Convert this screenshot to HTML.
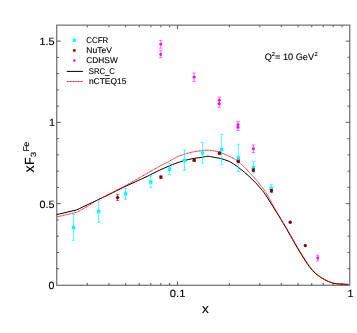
<!DOCTYPE html>
<html><head><meta charset="utf-8"><style>
html,body{margin:0;padding:0;background:#fff;}
svg{display:block;}
text{font-family:"Liberation Sans",sans-serif;fill:#000;text-rendering:geometricPrecision;stroke:#000;stroke-width:0.12px;}
svg{will-change:transform;}
</style></head><body>
<svg width="357" height="333" viewBox="0 0 357 333">
<rect width="357" height="333" fill="#fff"/>
<g stroke="#6c6c6c" stroke-width="1.2" fill="none">
<rect x="56.75" y="25.15" width="293.00" height="260.10"/>
<path d="M56.75,268.69h2.2 M349.75,268.69h-2.2" stroke="#4a4a4a" stroke-width="0.9"/>
<path d="M56.75,252.44h2.2 M349.75,252.44h-2.2" stroke="#4a4a4a" stroke-width="0.9"/>
<path d="M56.75,236.18h2.2 M349.75,236.18h-2.2" stroke="#4a4a4a" stroke-width="0.9"/>
<path d="M56.75,219.92h2.2 M349.75,219.92h-2.2" stroke="#4a4a4a" stroke-width="0.9"/>
<path d="M56.75,203.67h4.1 M349.75,203.67h-4.1" stroke="#4a4a4a" stroke-width="0.9"/>
<path d="M56.75,187.41h2.2 M349.75,187.41h-2.2" stroke="#4a4a4a" stroke-width="0.9"/>
<path d="M56.75,171.16h2.2 M349.75,171.16h-2.2" stroke="#4a4a4a" stroke-width="0.9"/>
<path d="M56.75,154.90h2.2 M349.75,154.90h-2.2" stroke="#4a4a4a" stroke-width="0.9"/>
<path d="M56.75,138.64h2.2 M349.75,138.64h-2.2" stroke="#4a4a4a" stroke-width="0.9"/>
<path d="M56.75,122.39h4.1 M349.75,122.39h-4.1" stroke="#4a4a4a" stroke-width="0.9"/>
<path d="M56.75,106.13h2.2 M349.75,106.13h-2.2" stroke="#4a4a4a" stroke-width="0.9"/>
<path d="M56.75,89.88h2.2 M349.75,89.88h-2.2" stroke="#4a4a4a" stroke-width="0.9"/>
<path d="M56.75,73.62h2.2 M349.75,73.62h-2.2" stroke="#4a4a4a" stroke-width="0.9"/>
<path d="M56.75,57.36h2.2 M349.75,57.36h-2.2" stroke="#4a4a4a" stroke-width="0.9"/>
<path d="M56.75,41.11h4.1 M349.75,41.11h-4.1" stroke="#4a4a4a" stroke-width="0.9"/>
<path d="M87.33,285.25v-2.2 M87.33,25.15v2.2"/>
<path d="M108.88,285.25v-2.2 M108.88,25.15v2.2"/>
<path d="M125.59,285.25v-2.2 M125.59,25.15v2.2"/>
<path d="M139.24,285.25v-2.2 M139.24,25.15v2.2"/>
<path d="M150.79,285.25v-2.2 M150.79,25.15v2.2"/>
<path d="M160.79,285.25v-2.2 M160.79,25.15v2.2"/>
<path d="M169.61,285.25v-2.2 M169.61,25.15v2.2"/>
<path d="M177.50,285.25v-4.1 M177.50,25.15v4.1"/>
<path d="M229.41,285.25v-2.2 M229.41,25.15v2.2"/>
<path d="M259.78,285.25v-2.2 M259.78,25.15v2.2"/>
<path d="M281.33,285.25v-2.2 M281.33,25.15v2.2"/>
<path d="M298.04,285.25v-2.2 M298.04,25.15v2.2"/>
<path d="M311.69,285.25v-2.2 M311.69,25.15v2.2"/>
<path d="M323.24,285.25v-2.2 M323.24,25.15v2.2"/>
<path d="M333.24,285.25v-2.2 M333.24,25.15v2.2"/>
<path d="M342.06,285.25v-2.2 M342.06,25.15v2.2"/>
</g>
<path d="M56.70,214.60 L76.40,210.00 C84.27,206.27 95.07,201.13 100.00,198.80 C104.93,196.47 101.67,198.12 106.00,196.00 C110.33,193.88 119.50,189.20 126.00,186.10 C132.50,183.00 139.45,180.03 145.00,177.40 C150.55,174.77 155.47,172.12 159.30,170.30 C163.13,168.48 165.05,167.73 168.00,166.50 C170.95,165.27 174.30,163.88 177.00,162.90 C179.70,161.92 181.50,161.33 184.20,160.60 C186.90,159.87 190.57,159.00 193.20,158.50 C195.83,158.00 198.12,157.87 200.00,157.60 C201.88,157.33 203.13,157.12 204.50,156.90 C205.87,156.68 206.78,156.22 208.20,156.25 C209.62,156.28 211.27,156.79 213.00,157.10 C214.73,157.41 217.10,157.80 218.60,158.10 C220.10,158.40 220.43,158.43 222.00,158.90 C223.57,159.37 226.13,160.10 228.00,160.90 C229.87,161.70 231.40,162.57 233.20,163.70 C235.00,164.83 236.93,166.28 238.80,167.70 C240.67,169.12 242.53,170.62 244.40,172.20 C246.27,173.78 248.13,175.43 250.00,177.20 C251.87,178.97 253.92,181.02 255.60,182.80 C257.28,184.58 258.47,185.93 260.10,187.90 C261.73,189.87 262.82,190.78 265.40,194.60 C267.98,198.42 272.25,205.38 275.60,210.80 C278.95,216.22 283.02,222.92 285.50,227.10 C287.98,231.28 288.03,231.62 290.50,235.90 C292.97,240.18 297.00,247.47 300.30,252.80 C303.60,258.13 307.45,264.20 310.30,267.90 C313.15,271.60 315.02,273.03 317.40,275.00 C319.78,276.97 322.22,278.40 324.60,279.70 C326.98,281.00 329.80,282.13 331.70,282.80 C333.60,283.47 334.10,283.47 336.00,283.70 C337.90,283.93 341.02,284.08 343.10,284.20 C345.18,284.32 346.70,284.33 348.50,284.40" stroke="#000" stroke-width="1" fill="none" stroke-linejoin="round"/>
<path d="M56.70,217.00 L76.70,212.30 C80.47,210.20 84.62,207.98 88.00,206.00 C91.38,204.02 94.00,202.13 97.00,200.40 C100.00,198.67 101.17,198.10 106.00,195.60 C110.83,193.10 119.50,188.90 126.00,185.40 C132.50,181.90 139.45,177.77 145.00,174.60 C150.55,171.43 155.47,168.50 159.30,166.40 C163.13,164.30 165.05,163.57 168.00,162.00 C170.95,160.43 174.30,158.28 177.00,157.00 C179.70,155.72 181.50,155.15 184.20,154.30 C186.90,153.45 190.57,152.47 193.20,151.90 C195.83,151.33 197.52,151.20 200.00,150.90 C202.48,150.60 205.00,149.95 208.10,150.10 C211.20,150.25 216.28,151.30 218.60,151.80 C220.92,152.30 219.57,152.03 222.00,153.10 C224.43,154.17 230.40,156.70 233.20,158.20 C236.00,159.70 236.93,160.62 238.80,162.10 C240.67,163.58 242.53,165.27 244.40,167.10 C246.27,168.93 248.13,171.08 250.00,173.10 C251.87,175.12 253.73,177.02 255.60,179.20 C257.47,181.38 259.48,183.97 261.20,186.20 C262.92,188.43 263.42,188.50 265.90,192.60 C268.38,196.70 272.75,205.05 276.10,210.80 C279.45,216.55 283.52,222.92 286.00,227.10 C288.48,231.28 288.53,231.62 291.00,235.90 C293.47,240.18 297.50,247.47 300.80,252.80 C304.10,258.13 307.95,264.20 310.80,267.90 C313.65,271.60 315.52,273.03 317.90,275.00 C320.28,276.97 322.75,278.40 325.10,279.70 C327.45,281.00 330.13,282.13 332.00,282.80 C333.87,283.47 334.45,283.47 336.30,283.70 C338.15,283.93 341.07,284.08 343.10,284.20 C345.13,284.32 346.70,284.33 348.50,284.40" stroke="#ff0000" stroke-width="0.9" fill="none" stroke-linejoin="round" stroke-dasharray="1.2 0.35"/>
<path d="M73.6,214.2V240.3 M71.89999999999999,214.2h3.4 M71.89999999999999,240.3h3.4" stroke="#00ffff" stroke-width="0.7" fill="none"/>
<path d="M98.7,200.7V222.3 M97.0,200.7h3.4 M97.0,222.3h3.4" stroke="#00ffff" stroke-width="0.7" fill="none"/>
<path d="M125.6,188.3V199.2 M123.89999999999999,188.3h3.4 M123.89999999999999,199.2h3.4" stroke="#00ffff" stroke-width="0.7" fill="none"/>
<path d="M150.8,175.8V187.7 M149.10000000000002,175.8h3.4 M149.10000000000002,187.7h3.4" stroke="#00ffff" stroke-width="0.7" fill="none"/>
<path d="M169.5,163.6V174.6 M167.8,163.6h3.4 M167.8,174.6h3.4" stroke="#00ffff" stroke-width="0.7" fill="none"/>
<path d="M184.5,150.1V170.4 M182.8,150.1h3.4 M182.8,170.4h3.4" stroke="#00ffff" stroke-width="0.7" fill="none"/>
<path d="M202.6,142.4V163.1 M200.9,142.4h3.4 M200.9,163.1h3.4" stroke="#00ffff" stroke-width="0.7" fill="none"/>
<path d="M221.65,134.3V164.4 M219.95000000000002,134.3h3.4 M219.95000000000002,164.4h3.4" stroke="#00ffff" stroke-width="0.7" fill="none"/>
<path d="M238.3,144.3V171.4 M236.60000000000002,144.3h3.4 M236.60000000000002,171.4h3.4" stroke="#00ffff" stroke-width="0.7" fill="none"/>
<path d="M253.4,161.8V172.8 M251.70000000000002,161.8h3.4 M251.70000000000002,172.8h3.4" stroke="#00ffff" stroke-width="0.7" fill="none"/>
<path d="M271.4,184.2V192.6 M269.7,184.2h3.4 M269.7,192.6h3.4" stroke="#00ffff" stroke-width="0.7" fill="none"/>
<rect x="71.90" y="225.70" width="3.4" height="3.4" fill="#00ffff"/>
<rect x="97.00" y="209.70" width="3.4" height="3.4" fill="#00ffff"/>
<rect x="123.90" y="192.10" width="3.4" height="3.4" fill="#00ffff"/>
<rect x="149.10" y="180.30" width="3.4" height="3.4" fill="#00ffff"/>
<rect x="167.80" y="167.50" width="3.4" height="3.4" fill="#00ffff"/>
<rect x="182.80" y="158.70" width="3.4" height="3.4" fill="#00ffff"/>
<rect x="200.90" y="151.20" width="3.4" height="3.4" fill="#00ffff"/>
<rect x="219.95" y="147.70" width="3.4" height="3.4" fill="#00ffff"/>
<rect x="236.60" y="156.20" width="3.4" height="3.4" fill="#00ffff"/>
<rect x="251.70" y="165.70" width="3.4" height="3.4" fill="#00ffff"/>
<rect x="269.70" y="186.60" width="3.4" height="3.4" fill="#00ffff"/>
<path d="M117.6,194.7V200.4 M115.89999999999999,194.7h3.4 M115.89999999999999,200.4h3.4" stroke="#800000" stroke-width="0.6" fill="none"/>
<circle cx="117.6" cy="197.6" r="1.7" fill="#800000"/>
<path d="M160.9,175.8V178.4 M159.20000000000002,175.8h3.4 M159.20000000000002,178.4h3.4" stroke="#800000" stroke-width="0.6" fill="none"/>
<circle cx="160.9" cy="177.1" r="1.7" fill="#800000"/>
<path d="M194.2,158.85V161.45 M192.5,158.85h3.4 M192.5,161.45h3.4" stroke="#800000" stroke-width="0.6" fill="none"/>
<circle cx="194.2" cy="160.15" r="1.7" fill="#800000"/>
<path d="M219.5,152.0V154.6 M217.8,152.0h3.4 M217.8,154.6h3.4" stroke="#800000" stroke-width="0.6" fill="none"/>
<circle cx="219.5" cy="153.3" r="1.7" fill="#800000"/>
<path d="M238.3,160.05V162.65 M236.60000000000002,160.05h3.4 M236.60000000000002,162.65h3.4" stroke="#800000" stroke-width="0.6" fill="none"/>
<circle cx="238.3" cy="161.35" r="1.7" fill="#800000"/>
<path d="M253.4,168.8V171.4 M251.70000000000002,168.8h3.4 M251.70000000000002,171.4h3.4" stroke="#800000" stroke-width="0.6" fill="none"/>
<circle cx="253.4" cy="170.1" r="1.7" fill="#800000"/>
<path d="M271.4,189.5V192.1 M269.7,189.5h3.4 M269.7,192.1h3.4" stroke="#800000" stroke-width="0.6" fill="none"/>
<circle cx="271.4" cy="190.8" r="1.7" fill="#800000"/>
<circle cx="290.2" cy="222.3" r="1.7" fill="#800000"/>
<circle cx="305.3" cy="245.6" r="1.7" fill="#800000"/>
<path d="M160.75,40.4V48.2 M159.05,40.4h3.4 M159.05,48.2h3.4" stroke="#ff00ff" stroke-width="0.55" fill="none"/>
<circle cx="160.75" cy="44.2" r="1.45" fill="#ff00ff"/>
<path d="M160.75,50.4V57.6 M159.05,50.4h3.4 M159.05,57.6h3.4" stroke="#ff00ff" stroke-width="0.55" fill="none"/>
<circle cx="160.75" cy="54.45" r="1.45" fill="#ff00ff"/>
<path d="M194.1,73.2V81.5 M192.4,73.2h3.4 M192.4,81.5h3.4" stroke="#ff00ff" stroke-width="0.55" fill="none"/>
<circle cx="194.1" cy="77.3" r="1.45" fill="#ff00ff"/>
<path d="M219.3,97.2V103.5 M217.60000000000002,97.2h3.4 M217.60000000000002,103.5h3.4" stroke="#ff00ff" stroke-width="0.55" fill="none"/>
<circle cx="219.3" cy="100.3" r="1.45" fill="#ff00ff"/>
<path d="M219.3,100.5V107.3 M217.60000000000002,100.5h3.4 M217.60000000000002,107.3h3.4" stroke="#ff00ff" stroke-width="0.55" fill="none"/>
<circle cx="219.3" cy="103.9" r="1.45" fill="#ff00ff"/>
<path d="M238.0,121.4V128.0 M236.3,121.4h3.4 M236.3,128.0h3.4" stroke="#ff00ff" stroke-width="0.55" fill="none"/>
<circle cx="238.0" cy="124.8" r="1.45" fill="#ff00ff"/>
<path d="M238.0,124.0V130.5 M236.3,124.0h3.4 M236.3,130.5h3.4" stroke="#ff00ff" stroke-width="0.55" fill="none"/>
<circle cx="238.0" cy="127.2" r="1.45" fill="#ff00ff"/>
<path d="M253.4,144.9V152.5 M251.70000000000002,144.9h3.4 M251.70000000000002,152.5h3.4" stroke="#ff00ff" stroke-width="0.55" fill="none"/>
<circle cx="253.4" cy="148.7" r="1.45" fill="#ff00ff"/>
<path d="M317.7,255.2V261.0 M316.0,255.2h3.4 M316.0,261.0h3.4" stroke="#ff00ff" stroke-width="0.55" fill="none"/>
<circle cx="317.7" cy="258.0" r="1.45" fill="#ff00ff"/>
<rect x="72.7" y="38.7" width="3.2" height="3.2" fill="#00ffff"/>
<circle cx="74.3" cy="50.5" r="1.4" fill="#800000"/>
<circle cx="74.3" cy="60.5" r="1.3" fill="#ff00ff"/>
<path d="M66.8,71.4H82.9" stroke="#000" stroke-width="1"/>
<path d="M66.8,81.5H82.9" stroke="#ff0000" stroke-width="0.9" stroke-dasharray="1.2 0.35"/>
<text x="86.3" y="42.9" font-size="8.4" text-anchor="start" textLength="22.0" lengthAdjust="spacingAndGlyphs">CCFR</text>
<text x="86.3" y="53.1" font-size="8.4" text-anchor="start" textLength="25.6" lengthAdjust="spacingAndGlyphs">NuTeV</text>
<text x="86.3" y="63.2" font-size="8.4" text-anchor="start" textLength="31.5" lengthAdjust="spacingAndGlyphs">CDHSW</text>
<text x="88.8" y="73.5" font-size="8.4" text-anchor="start" textLength="26.1" lengthAdjust="spacingAndGlyphs">SRC_C</text>
<text x="88.9" y="83.9" font-size="8.4" text-anchor="start" textLength="37.5" lengthAdjust="spacingAndGlyphs">nCTEQ15</text>
<text x="264.7" y="60.3" font-size="9.2">Q<tspan font-size="5.7" dy="-3.9">2</tspan><tspan dy="3.9">= 10 GeV</tspan><tspan font-size="5.7" dy="-3.9" dx="0.3">2</tspan></text>
<text x="39.6" y="45.1" font-size="10.5" text-anchor="start" textLength="15.0" lengthAdjust="spacingAndGlyphs">1.5</text>
<text x="49.0" y="126.2" font-size="10.5" text-anchor="start" textLength="6.0" lengthAdjust="spacingAndGlyphs">1</text>
<text x="39.6" y="207.5" font-size="10.5" text-anchor="start" textLength="15.0" lengthAdjust="spacingAndGlyphs">0.5</text>
<text x="48.6" y="288.8" font-size="10.5" text-anchor="start" textLength="5.9" lengthAdjust="spacingAndGlyphs">0</text>
<text x="169.8" y="297.2" font-size="10.5" text-anchor="start" textLength="15.6" lengthAdjust="spacingAndGlyphs">0.1</text>
<text x="347.4" y="297.2" font-size="10.5" text-anchor="start" textLength="6.0" lengthAdjust="spacingAndGlyphs">1</text>
<text x="202.0" y="312.8" font-size="13" text-anchor="start" textLength="6.8" lengthAdjust="spacingAndGlyphs">x</text>
<g transform="translate(34.4,172.5) rotate(-90)"><text x="-0.1" y="0" font-size="14.4">x</text><text x="7.4" y="0" font-size="13.2" textLength="7.6" lengthAdjust="spacingAndGlyphs">F</text><text x="15.6" y="1.4" font-size="7.6" textLength="5.2" lengthAdjust="spacingAndGlyphs">3</text><text x="20.9" y="-5.9" font-size="8.5">Fe</text></g>
</svg></body></html>
